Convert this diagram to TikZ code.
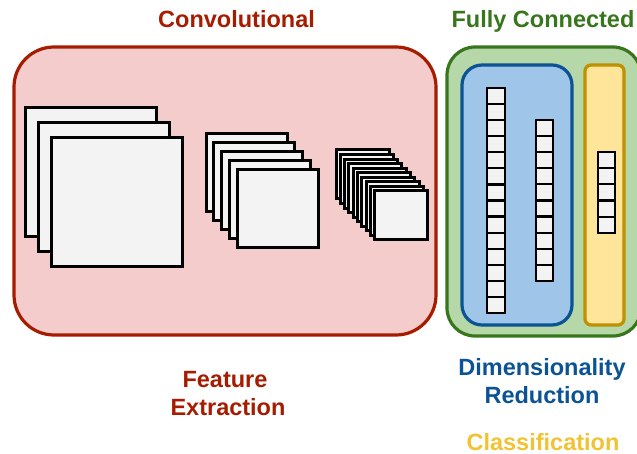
\documentclass[tikz,border=0pt]{standalone}
\usepackage{fontspec}
\setmainfont{Liberation Sans}
\definecolor{redline}{HTML}{A61C00}
\definecolor{redfill}{HTML}{F4CCCC}
\definecolor{greenline}{HTML}{38761D}
\definecolor{greenfill}{HTML}{B6D7A8}
\definecolor{blueline}{HTML}{0B5394}
\definecolor{bluefill}{HTML}{9FC5E8}
\definecolor{yelline}{HTML}{BF9000}
\definecolor{yelfill}{HTML}{FFE599}
\definecolor{yeltext}{HTML}{F1C232}
\definecolor{sheet}{HTML}{F3F3F3}
\begin{document}
\begin{tikzpicture}[x=1pt,y=-1pt,
  lbl/.style={font=\fontsize{23.5}{28}\selectfont\bfseries, anchor=base, inner sep=0pt},
  sheetbox/.style={draw=black, fill=sheet, line width=3pt},
  cellbox/.style={draw=black, fill=sheet, line width=2.2pt},
  region/.style={line width=3.2pt}]
\clip (0,0) rectangle (637,454);
\useasboundingbox (0,0) rectangle (637,454);
% regions
\draw[region, draw=redline, fill=redfill, rounded corners=40pt] (14,47) rectangle (436,335);
\draw[region, draw=greenline, fill=greenfill, rounded corners=28pt] (447,47) rectangle (641,336);
\draw[region, draw=blueline, fill=bluefill, rounded corners=20pt] (462,65) rectangle (572,325);
\draw[region, draw=yelline, fill=yelfill, rounded corners=6pt] (585,65) rectangle (624,325);
% stack 1
\foreach \i in {0,...,2}{
  \draw[sheetbox] ({25+13*\i},{108+15*\i}) rectangle ++(131,129);
}
% stack 2
\foreach \i in {0,...,4}{
  \draw[sheetbox] ({206+7.75*\i},{134+9*\i}) rectangle ++(81,78);
}
% stack 3
\foreach \i in {0,...,9}{
  \draw[sheetbox] ({336+4.33*\i},{150+4.55*\i}) rectangle ++(53,49);
}
% columns
\foreach \i in {0,...,13}{
  \draw[cellbox] (487,{88+16.07*\i}) rectangle ++(18,16.07);
}
\foreach \i in {0,...,9}{
  \draw[cellbox] (536,{120+16.1*\i}) rectangle ++(17,16.1);
}
\foreach \i in {0,...,4}{
  \draw[cellbox] (598,{152+16.2*\i}) rectangle ++(17,16.2);
}
% labels
\node[lbl, text=redline] (conv) at (236.5,28) {Convolutional};
\node[lbl, text=greenline] (fc) at (543,28) {Fully Connected};
\node[lbl, text=redline] (feat) at (225,387) {Feature};
\node[lbl, text=redline] (extr) at (228,415) {Extraction};
\node[lbl, text=blueline] (dimr) at (542,375) {Dimensionality};
\node[lbl, text=blueline] (redu) at (542,403) {Reduction};
\node[lbl, text=yeltext] (clas) at (543,450) {Classification};
\end{tikzpicture}
\end{document}
